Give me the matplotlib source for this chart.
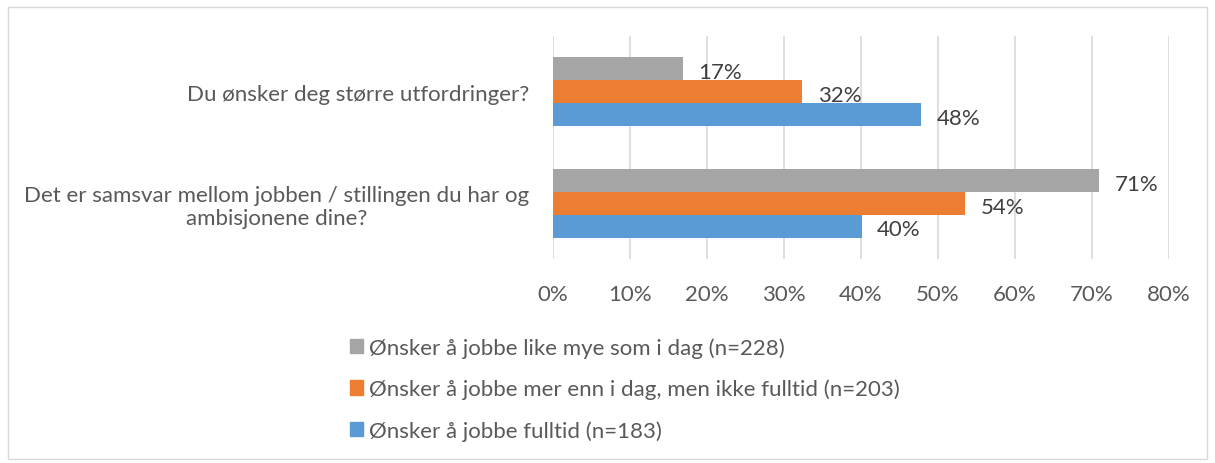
import matplotlib.pyplot as plt
import matplotlib.patches as mpatches
import numpy as np

plt.rcParams['font.family'] = ['Lato', 'DejaVu Sans']

# questions, top to bottom
questions = ["Du ønsker deg større utfordringer?",
             "Det er samsvar mellom jobben / stillingen du har og\nambisjonene dine?"]

series_names = ["Ønsker å jobbe like mye som i dag (n=228)",
                "Ønsker å jobbe mer enn i dag, men ikke fulltid (n=203)",
                "Ønsker å jobbe fulltid (n=183)"]
like_mye = [16.9, 70.9]
mer_enn = [32.4, 53.5]
fulltid = [47.8, 40.1]
labels_like = ["17%", "71%"]
labels_mer = ["32%", "54%"]
labels_full = ["48%", "40%"]

colors = ["#a5a5a5", "#ed7d31", "#5b9bd5"]
fs = 16

fig = plt.figure(figsize=(12.15, 4.64), dpi=100)
ax = fig.add_axes([553 / 1215, 1 - 260 / 464, 616 / 1215, 223 / 464])

y = np.arange(len(questions))
h = 0.205
all_vals = [like_mye, mer_enn, fulltid]
all_labels = [labels_like, labels_mer, labels_full]
for k in range(3):
    pos = y + (k - 1) * h
    ax.barh(pos, all_vals[k], height=h, color=colors[k], label=series_names[k], zorder=2)
    for p, v, t in zip(pos, all_vals[k], all_labels[k]):
        ax.text(v + 2.0, p + 0.03, t, va='center', ha='left', fontsize=fs, color='#404040')

ax.set_xlim(0, 80)
ax.set_ylim(1.5, -0.5)
ax.set_xticks(range(0, 81, 10))
ax.set_xticklabels([f"{t}%" for t in range(0, 81, 10)], fontsize=fs, color='#595959')
ax.set_yticks(y)
ax.set_yticklabels(questions, fontsize=fs, color='#595959', multialignment='center')
ax.tick_params(axis='both', length=0)
ax.tick_params(axis='x', pad=18)
ax.tick_params(axis='y', pad=17)
for s in ax.spines.values():
    s.set_visible(False)
ax.grid(axis='x', color='#d9d9d9', linewidth=1.2, zorder=0)

handles = [mpatches.Patch(color=c) for c in colors]
fig.legend(handles, series_names, loc='upper left', bbox_to_anchor=(330 / 1215, 1 - 318 / 464),
           frameon=False, fontsize=fs, labelcolor='#595959', handlelength=0.6, handleheight=0.6,
           handletextpad=0.25, labelspacing=0.95)

fig.patches.append(mpatches.Rectangle((8 / 1215, 4 / 464), 1199 / 1215, 452 / 464,
                                      transform=fig.transFigure, fill=False,
                                      edgecolor='#d9d9d9', linewidth=1))

fig.savefig("out.png", dpi=100)
